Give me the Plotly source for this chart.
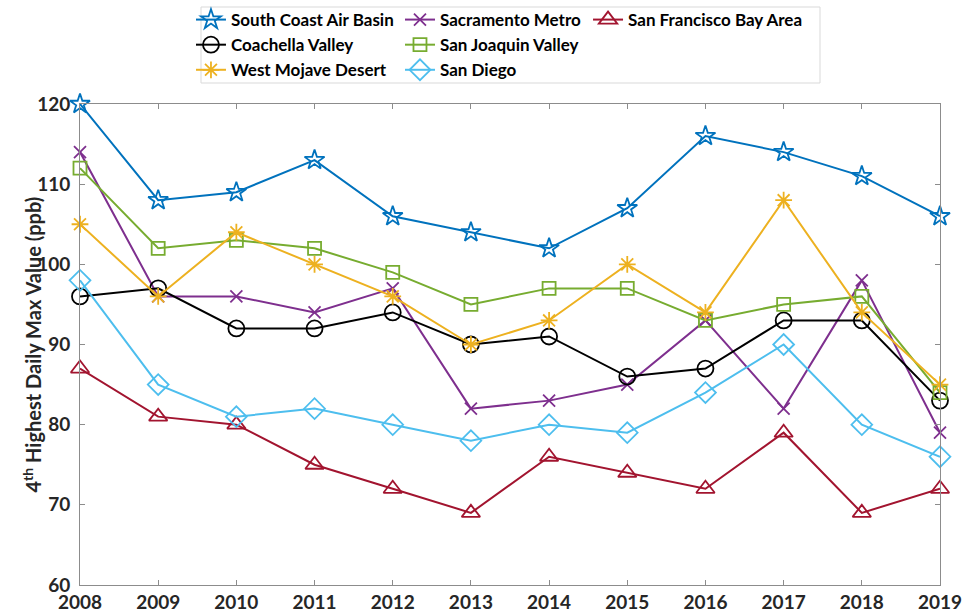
import plotly.graph_objects as go

years = list(range(2008, 2020))
south_coast = [120, 108, 109, 113, 106, 104, 102, 107, 116, 114, 111, 106]
sacramento = [114, 96, 96, 94, 97, 82, 83, 85, 93, 82, 98, 79]
sf_bay = [87, 81, 80, 75, 72, 69, 76, 74, 72, 79, 69, 72]
coachella = [96, 97, 92, 92, 94, 90, 91, 86, 87, 93, 93, 83]
san_joaquin = [112, 102, 103, 102, 99, 95, 97, 97, 93, 95, 96, 84]
west_mojave = [105, 96, 104, 100, 96, 90, 93, 100, 94, 108, 94, 85]
san_diego = [98, 85, 81, 82, 80, 78, 80, 79, 84, 90, 80, 76]
y_title = "4<sup>th</sup> Highest Daily Max Value (ppb)"

FONT = "Lato"

series = [
    ("South Coast Air Basin", south_coast, "#0072BD", "star-open", 15, "legend"),
    ("Sacramento Metro", sacramento, "#7E2F8E", "x-thin-open", 12, "legend2"),
    ("San Francisco Bay Area", sf_bay, "#A2142F", "triangle-up-open", 16, "legend3"),
    ("Coachella Valley", coachella, "#000000", "circle-open", 16, "legend"),
    ("San Joaquin Valley", san_joaquin, "#77AC30", "square-open", 13, "legend2"),
    ("West Mojave Desert", west_mojave, "#EDB120", "asterisk-open", 14, "legend"),
    ("San Diego", san_diego, "#4DBEEE", "diamond-open", 16, "legend2"),
]

fig = go.Figure()
for i, (name, vals, color, sym, size, lg) in enumerate(series):
    fig.add_trace(go.Scatter(
        x=years, y=vals, name=name, mode="lines+markers",
        line=dict(color=color, width=2),
        marker=dict(symbol=sym, size=size, color=color, line=dict(color=color, width=1.8)),
        cliponaxis=False, legend=lg, legendgroup=name,
    ))

legfont = dict(family=FONT, size=17, color="#000000", weight=700)
def leg(x):
    return dict(x=x, y=1.212, xanchor="left", yanchor="top", orientation="v",
                bgcolor="rgba(0,0,0,0)", borderwidth=0, font=legfont,
                tracegroupgap=0, itemwidth=30)

axis_common = dict(showline=True, linecolor="#8c8c8c", linewidth=1, mirror="ticks",
                   ticks="inside", ticklen=5, tickcolor="#8c8c8c", showgrid=False,
                   zeroline=False, automargin=False,
                   tickfont=dict(family=FONT, size=19, color="#262626", weight=700))

px = 1 / 860
fig.update_layout(
    width=963, height=614,
    margin=dict(l=80, r=23, t=104, b=29, autoexpand=False),
    paper_bgcolor="white", plot_bgcolor="white",
    font=dict(family=FONT),
    legend=leg(0.1302 - 1 * px), legend2=leg(0.3744 - 2 * px), legend3=leg(0.5919 - 1 * px),
    xaxis=dict(range=[2008, 2019], tickvals=years, ticktext=[str(y) for y in years],
               ticklabelstandoff=0, **axis_common),
    yaxis=dict(range=[60, 120], tickvals=[60, 70, 80, 90, 100, 110, 120],
               ticklabelstandoff=5, **axis_common),
    annotations=[dict(text=y_title, xref="paper", yref="paper",
                      x=(31 - 80) / 860, y=0.5, xanchor="center", yanchor="middle",
                      textangle=-90, showarrow=False,
                      font=dict(family=FONT, size=20, color="#262626", weight=700))],
    shapes=[dict(type="rect", xref="paper", yref="paper",
                 x0=(201 - 80) / 860, x1=(820 - 80) / 860,
                 y0=(585 - 83) / 481, y1=(585 - 7) / 481,
                 line=dict(color="#d9d9d9", width=1), fillcolor="rgba(0,0,0,0)", layer="below")],
)

fig.write_html("out.html", config={"displayModeBar": False},
               post_script="document.body.style.margin='0';document.body.style.overflow='hidden';")
